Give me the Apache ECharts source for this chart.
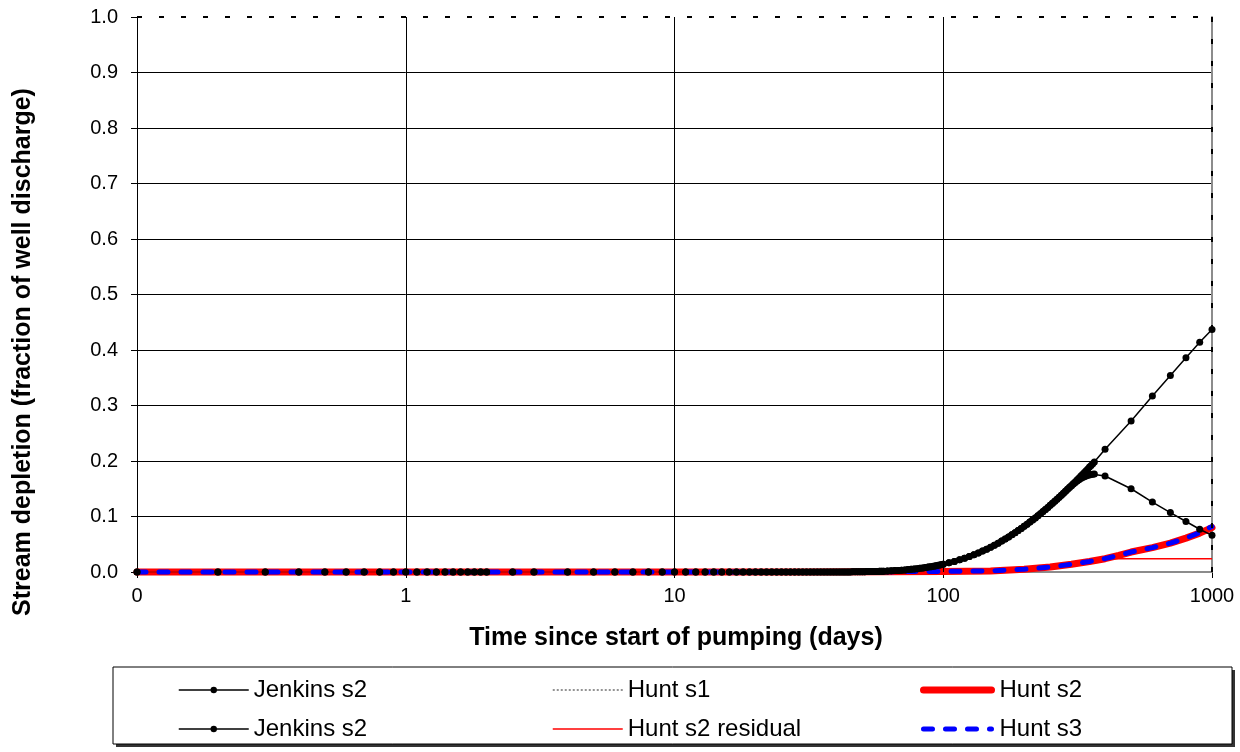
<!DOCTYPE html>
<html>
<head>
<meta charset="utf-8">
<script src="https://cdn.jsdelivr.net/npm/echarts@6/dist/echarts.min.js"></script>
<style>
  html, body { margin: 0; padding: 0; background: #fff; }
  #chart { width: 1240px; height: 752px; }
</style>
</head>
<body>
<div id="chart"></div>
<script>
// Time since start of pumping (days) for the Jenkins curves
const jenkinsTime = [
  0.1, 0.2, 0.3, 0.4, 0.5, 0.6, 0.7, 0.8, 0.9,
  1.0, 1.1, 1.2, 1.3, 1.4, 1.5, 1.6, 1.7, 1.8, 1.9, 2.0,
  2.5, 3, 4, 5, 6, 7, 8, 9,
  10, 11, 12, 13, 14, 15, 16, 17, 18, 19, 20, 21, 22, 23, 24, 25, 26, 27, 28, 29,
  30, 31, 32, 33, 34, 35, 36, 37, 38, 39, 40, 41, 42, 43, 44, 45, 46, 47, 48, 49,
  50, 51, 52, 53, 54, 55, 56, 57, 58, 59,
  60, 62, 64, 66, 68, 70, 72, 74, 76, 78, 80, 82, 84, 86, 88, 90, 92, 94, 96, 98, 100,
  105, 110, 115, 120, 125, 130, 135, 140, 145, 150, 155, 160, 165, 170, 175, 180,
  185, 190, 195, 200, 205, 210, 215, 220, 225, 230, 235, 240, 245, 250, 255, 260,
  265, 270, 275, 280, 285, 290, 295, 300, 305, 310, 315, 320, 325, 330, 335, 340,
  345, 350, 355, 360, 365,
  400, 500, 600, 700, 800, 900, 1000
];

// Stream depletion while pumping continues (fraction of well discharge)
const jenkinsPumping = [
  0, 0, 0, 0, 0, 0, 0, 0, 0,
  0, 0, 0, 0, 0, 0, 0, 0, 0, 0, 0,
  0, 0, 0, 0, 0, 0, 0, 0,
  0, 0, 0, 0, 0, 0, 0, 0, 0, 0, 0, 0, 0, 0, 0, 0, 0, 0, 0, 0,
  0, 0, 0, 0, 0, 0, 0, 0, 0, 0, 0, 0, 0, 0, 0, 0, 0.0003, 0.0003, 0.0004, 0.0005,
  0.0005, 0.0006, 0.0007, 0.0007, 0.0008, 0.0009, 0.0010, 0.0011, 0.0013, 0.0014,
  0.0015, 0.0018, 0.0021, 0.0025, 0.0029, 0.0033, 0.0038, 0.0043, 0.0048, 0.0054, 0.0060,
  0.0067, 0.0073, 0.0081, 0.0088, 0.0096, 0.0104, 0.0113, 0.0121, 0.0131, 0.0140,
  0.0165, 0.0191, 0.0219, 0.0249, 0.0279, 0.0311, 0.0344, 0.0378, 0.0412, 0.0448, 0.0484, 0.0520,
  0.0557, 0.0594, 0.0632, 0.0670, 0.0708, 0.0746, 0.0784, 0.0823, 0.0861, 0.0899, 0.0937, 0.0975,
  0.1014, 0.1051, 0.1089, 0.1127, 0.1164, 0.1201, 0.1238, 0.1275, 0.1311, 0.1348, 0.1384, 0.1419,
  0.1455, 0.1490, 0.1525, 0.1559, 0.1593, 0.1628, 0.1662, 0.1695, 0.1728, 0.1761, 0.1793, 0.1826,
  0.1858, 0.1890, 0.1921, 0.1952, 0.1983,
  0.221, 0.272, 0.317, 0.354, 0.386, 0.414, 0.437
];

// Second Jenkins curve: identical up to day 250, then these values (from day 255 on)
const jenkinsStoppedFrom = 255;
const jenkinsStoppedTail = [
  0.1238, 0.1275, 0.1311, 0.1348, 0.1384, 0.1419, 0.1454, 0.1489, 0.1522, 0.1554,
  0.1584, 0.1613, 0.1639, 0.1662, 0.1683, 0.1701, 0.1717, 0.1730, 0.1741, 0.1750,
  0.1757, 0.1761, 0.1764,
  0.173, 0.150, 0.126, 0.107, 0.091, 0.077, 0.066
];

// Hunt solutions
const huntTime = [0.1, 1, 10, 30, 60, 100, 150, 200, 250, 300, 350, 400, 450, 500, 600, 700, 800, 900, 1000];
const huntS1 = [0, 0, 0, 0, 0, 0, 0, 0, 0, 0, 0, 0, 0, 0, 0, 0, 0, 0, 0];
const huntS2 = [0, 0, 0, 0, 0.0005, 0.001, 0.002, 0.005, 0.009, 0.014, 0.019, 0.024, 0.030, 0.036, 0.044, 0.052, 0.061, 0.070, 0.080];
const huntS2Residual = [0, 0, 0, 0, 0.0005, 0.001, 0.002, 0.005, 0.009, 0.014, 0.019, 0.024, 0.024, 0.024, 0.024, 0.024, 0.024, 0.024, 0.024];
const huntS3 = [0, 0, 0, 0, 0.0005, 0.001, 0.002, 0.005, 0.009, 0.014, 0.019, 0.024, 0.030, 0.036, 0.044, 0.052, 0.061, 0.071, 0.082];

// Decade gridlines on the time axis
const decadeLines = [1, 10, 100];

const xTitle = 'Time since start of pumping (days)';
const yTitle = 'Stream depletion (fraction of well discharge)';

const FONT = '"Liberation Sans", Arial, Helvetica, sans-serif';
const pairs = (xs, ys) => xs.map((x, i) => [x, ys[i]]);

const cut = jenkinsTime.indexOf(jenkinsStoppedFrom);
const jenkinsStopped = jenkinsPumping.slice(0, cut).concat(jenkinsStoppedTail);

// Line styles shared by the series and their legend entries
const styleJenkins = { color: '#000', width: 1.5 };
const styleHuntS1 = { color: '#707070', width: 1.5, type: [2, 2] };
const styleHuntS2 = { color: '#ff0000', width: 7, cap: 'round', join: 'round' };
const styleResidual = { color: '#ff0000', width: 1.5 };
const styleHuntS3 = { color: '#0000ff', width: 5, type: [9, 13], cap: 'round', join: 'round' };

const chart = echarts.init(document.getElementById('chart'), null, { renderer: 'canvas' });

const legendBase = {
  orient: 'vertical',
  top: 678,
  padding: 0,
  itemWidth: 70,
  itemHeight: 8,
  itemGap: 15,
  selectedMode: false,
  formatter: (n) => n.trim(),
  textStyle: { fontFamily: FONT, fontSize: 24, lineHeight: 24, color: '#000' }
};
const noDot = { color: 'rgba(0,0,0,0)', borderWidth: 0, opacity: 0 };

chart.setOption({
  animation: false,
  backgroundColor: '#fff',
  grid: { left: 137, right: 28, top: 17, bottom: 180, outerBoundsMode: 'none' },
  xAxis: [
    {
      type: 'log', logBase: 10, min: 0.1, max: 1000,
      axisLine: { show: true, onZero: false, lineStyle: { color: '#000', width: 1 } },
      axisTick: { show: true, length: 6, lineStyle: { color: '#000', width: 1 } },
      minorTick: { show: false },
      splitLine: { show: false },
      axisLabel: {
        color: '#000', fontFamily: FONT, fontSize: 20, margin: 14,
        formatter: (v) => String(Math.round(v))
      }
    },
    {
      type: 'log', logBase: 10, min: 0.1, max: 1000, position: 'top',
      axisLine: { show: true, lineStyle: { color: '#8c8c8c', width: 2 } },
      axisTick: { show: false }, axisLabel: { show: false }, splitLine: { show: false }
    }
  ],
  yAxis: [
    {
      type: 'value', min: 0, max: 1, interval: 0.1,
      axisLine: { show: true, onZero: false, lineStyle: { color: '#000', width: 1 } },
      axisTick: { show: true, length: 6, lineStyle: { color: '#000', width: 1 } },
      splitLine: { show: true, showMinLine: false, showMaxLine: false, lineStyle: { color: '#000', width: 1 } },
      axisLabel: {
        color: '#000', fontFamily: FONT, fontSize: 20, margin: 19,
        formatter: (v) => v.toFixed(1)
      }
    },
    {
      type: 'value', min: 0, max: 1, position: 'right', z: 1,
      axisLine: { show: true, lineStyle: { color: '#8c8c8c', width: 2 } },
      axisTick: { show: false }, axisLabel: { show: false }, splitLine: { show: false }
    }
  ],
  legend: [
    Object.assign({}, legendBase, { left: 178, data: [
      { name: 'Jenkins s2', lineStyle: styleJenkins },
      { name: 'Jenkins s2 ', lineStyle: styleJenkins }
    ] }),
    Object.assign({}, legendBase, { left: 552, data: [
      { name: 'Hunt s1', itemStyle: noDot, lineStyle: styleHuntS1 },
      { name: 'Hunt s2 residual', itemStyle: noDot, lineStyle: styleResidual }
    ] }),
    Object.assign({}, legendBase, { left: 920, itemWidth: 68, data: [
      { name: 'Hunt s2', itemStyle: noDot, lineStyle: styleHuntS2 },
      { name: 'Hunt s3', itemStyle: noDot, lineStyle: styleHuntS3 }
    ], textStyle: Object.assign({}, legendBase.textStyle, { padding: [0, 0, 0, 3] }) })
  ],
  graphic: [
    {
      type: 'rect', z: 1,
      shape: { x: 116, y: 670, width: 1119, height: 77 },
      style: { fill: '#333', stroke: null }
    },
    {
      type: 'rect', z: 2,
      shape: { x: 113, y: 667, width: 1119, height: 77 },
      style: { fill: '#fff', stroke: '#000', lineWidth: 1 }
    },
    {
      type: 'text', z: 5, x: 676, y: 638,
      style: { text: xTitle, font: 'bold 25px ' + FONT, fill: '#000', align: 'center', verticalAlign: 'middle' }
    },
    {
      type: 'text', z: 5, x: 23, y: 352, rotation: Math.PI / 2,
      style: { text: yTitle, font: 'bold 25px ' + FONT, fill: '#000', align: 'center', verticalAlign: 'middle' }
    }
  ],
  series: [
    {
      name: 'Jenkins s2', type: 'line', data: pairs(jenkinsTime, jenkinsPumping), clip: false,
      symbol: 'circle', symbolSize: 7, showSymbol: true, showAllSymbol: true,
      lineStyle: styleJenkins, itemStyle: { color: '#000' },
      emphasis: { disabled: true },
      markLine: {
        silent: true, symbol: ['none', 'none'], label: { show: false },
        lineStyle: { color: '#000', width: 1, type: 'solid' },
        data: decadeLines.map((d) => ({ xAxis: d }))
      }
    },
    {
      name: 'Hunt s1', type: 'line', data: pairs(huntTime, huntS1), symbol: 'none', clip: false, z: -1,
      lineStyle: styleHuntS1, itemStyle: { color: '#707070' },
      emphasis: { disabled: true }
    },
    {
      name: 'Hunt s2', type: 'line', data: pairs(huntTime, huntS2), symbol: 'none', clip: false,
      lineStyle: styleHuntS2, itemStyle: { color: '#ff0000' },
      emphasis: { disabled: true }
    },
    {
      name: 'Jenkins s2 ', type: 'line', data: pairs(jenkinsTime, jenkinsStopped), clip: false,
      symbol: 'circle', symbolSize: 7, showSymbol: true, showAllSymbol: true,
      lineStyle: styleJenkins, itemStyle: { color: '#000' },
      emphasis: { disabled: true }
    },
    {
      name: 'Hunt s2 residual', type: 'line', data: pairs(huntTime, huntS2Residual), symbol: 'none', clip: false,
      lineStyle: styleResidual, itemStyle: { color: '#ff0000' },
      emphasis: { disabled: true },
      // dashed plot-area border along the top and right edges
      markLine: {
        silent: true, symbol: ['none', 'none'], label: { show: false },
        lineStyle: { color: '#000', width: 2, type: [5, 17] },
        data: [{ yAxis: 1 }, { xAxis: 1000 }]
      }
    },
    {
      name: 'Hunt s3', type: 'line', data: pairs(huntTime, huntS3), symbol: 'none', clip: false,
      lineStyle: styleHuntS3, itemStyle: { color: '#0000ff' },
      emphasis: { disabled: true }
    }
  ]
});
</script>
</body>
</html>
